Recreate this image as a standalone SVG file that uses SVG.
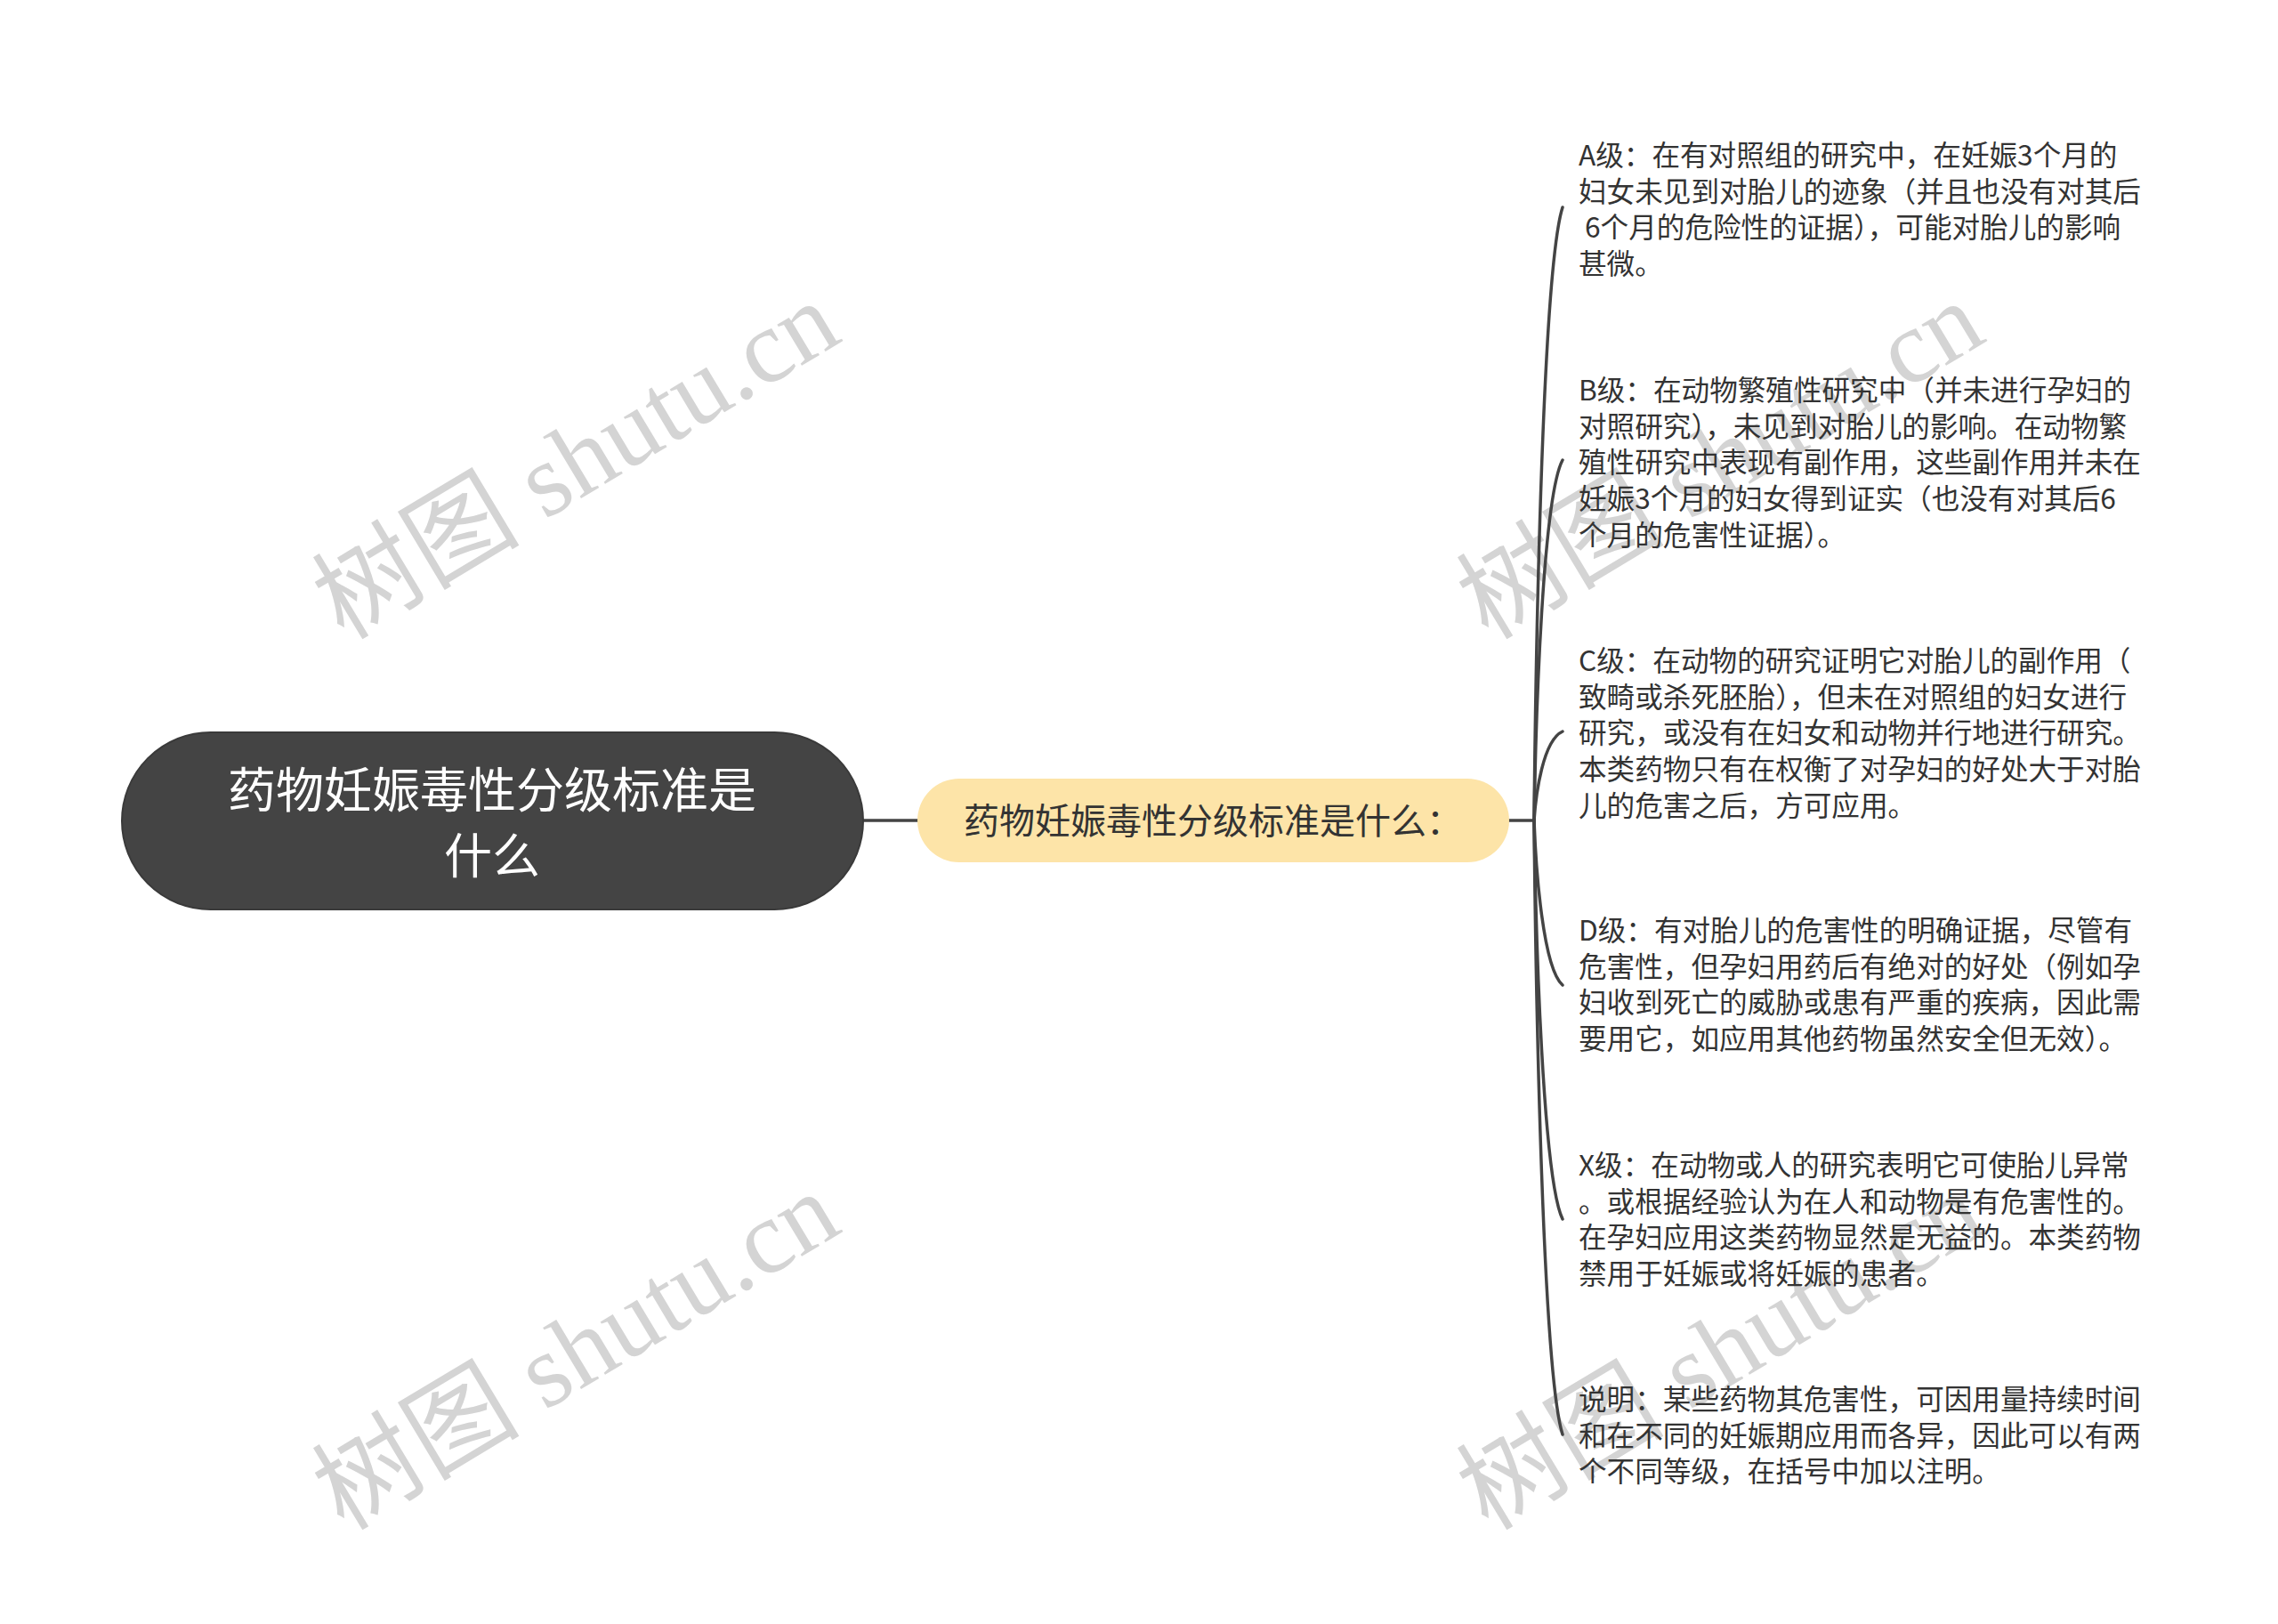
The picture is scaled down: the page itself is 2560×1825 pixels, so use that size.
<svg xmlns="http://www.w3.org/2000/svg" width="2560" height="1825" viewBox="0 0 2560 1825">
<style>
.wm{font-family:"Liberation Serif","Noto Sans CJK SC",serif;font-size:117px;fill:#d4d4d4;text-anchor:middle}
.root{font-family:"Noto Sans CJK SC","Noto Sans",sans-serif;font-size:54px;fill:#ffffff;text-anchor:middle}
.sub{font-family:"Noto Sans CJK SC","Noto Sans",sans-serif;font-size:40px;fill:#333333;text-anchor:middle}
.leaf{font-family:"Noto Sans CJK SC","Noto Sans",sans-serif;font-size:31.6px;fill:#333333;white-space:pre}
.conn path,.conn line{stroke:#444444;stroke-width:3.5;fill:none;stroke-linecap:round}
</style>
<rect width="2560" height="1825" fill="#ffffff"/>
<g id="watermarks">
<text class="wm" transform="translate(647,517) rotate(-31)" x="0" y="40">树图 shutu.cn</text>
<text class="wm" transform="translate(1933,517) rotate(-31)" x="0" y="40">树图 shutu.cn</text>
<text class="wm" transform="translate(647,1518) rotate(-31)" x="0" y="40">树图 shutu.cn</text>
<text class="wm" transform="translate(1933,1518) rotate(-31)" x="0" y="40">树图 shutu.cn</text>
</g>
<g id="connectors" class="conn">
<line x1="970" y1="922" x2="1031" y2="922"/>
<line x1="1696" y1="922" x2="1724" y2="922"/>
<path d="M1724,922 C1726,715 1734,302 1756,233"/>
<path d="M1724,922 C1726,800 1734,558 1756,517"/>
<path d="M1724,922 C1726,892 1734,832 1756,822"/>
<path d="M1724,922 C1726,977 1734,1088 1756,1107"/>
<path d="M1724,922 C1726,1056 1734,1325 1756,1370"/>
<path d="M1724,922 C1726,1129 1734,1543 1756,1612"/>
</g>
<g id="root">
<rect x="137" y="823" width="833" height="199" rx="99.5" ry="99.5" fill="#444444" stroke="#3a3a3a" stroke-width="2"/>
<text class="root" x="553" y="908">药物妊娠毒性分级标准是</text>
<text class="root" x="553" y="982">什么</text>
</g>
<g id="sub">
<rect x="1031" y="875" width="665" height="94" rx="47" ry="47" fill="#fde4a8"/>
<text class="sub" x="1363" y="937">药物妊娠毒性分级标准是什么：</text>
</g>
<g id="leafA">
<text class="leaf" x="1774" y="186"><tspan x="1774">A级：在有对照组的研究中，在妊娠3个月的</tspan><tspan x="1774" dy="40.7">妇女未见到对胎儿的迹象（并且也没有对其后</tspan><tspan x="1774" dy="40.7"> 6个月的危险性的证据），可能对胎儿的影响</tspan><tspan x="1774" dy="40.7">甚微。</tspan></text>
</g>
<g id="leafB">
<text class="leaf" x="1774" y="450"><tspan x="1774">B级：在动物繁殖性研究中（并未进行孕妇的</tspan><tspan x="1774" dy="40.7">对照研究），未见到对胎儿的影响。在动物繁</tspan><tspan x="1774" dy="40.7">殖性研究中表现有副作用，这些副作用并未在</tspan><tspan x="1774" dy="40.7">妊娠3个月的妇女得到证实（也没有对其后6</tspan><tspan x="1774" dy="40.7">个月的危害性证据）。</tspan></text>
</g>
<g id="leafC">
<text class="leaf" x="1774" y="754"><tspan x="1774">C级：在动物的研究证明它对胎儿的副作用（</tspan><tspan x="1774" dy="40.7">致畸或杀死胚胎），但未在对照组的妇女进行</tspan><tspan x="1774" dy="40.7">研究，或没有在妇女和动物并行地进行研究。</tspan><tspan x="1774" dy="40.7">本类药物只有在权衡了对孕妇的好处大于对胎</tspan><tspan x="1774" dy="40.7">儿的危害之后，方可应用。</tspan></text>
</g>
<g id="leafD">
<text class="leaf" x="1774" y="1057"><tspan x="1774">D级：有对胎儿的危害性的明确证据，尽管有</tspan><tspan x="1774" dy="40.7">危害性，但孕妇用药后有绝对的好处（例如孕</tspan><tspan x="1774" dy="40.7">妇收到死亡的威胁或患有严重的疾病，因此需</tspan><tspan x="1774" dy="40.7">要用它，如应用其他药物虽然安全但无效）。</tspan></text>
</g>
<g id="leafX">
<text class="leaf" x="1774" y="1321"><tspan x="1774">X级：在动物或人的研究表明它可使胎儿异常</tspan><tspan x="1774" dy="40.7">。或根据经验认为在人和动物是有危害性的。</tspan><tspan x="1774" dy="40.7">在孕妇应用这类药物显然是无益的。本类药物</tspan><tspan x="1774" dy="40.7">禁用于妊娠或将妊娠的患者。</tspan></text>
</g>
<g id="leafNote">
<text class="leaf" x="1774" y="1584"><tspan x="1774">说明：某些药物其危害性，可因用量持续时间</tspan><tspan x="1774" dy="40.7">和在不同的妊娠期应用而各异，因此可以有两</tspan><tspan x="1774" dy="40.7">个不同等级，在括号中加以注明。</tspan></text>
</g>
</svg>
